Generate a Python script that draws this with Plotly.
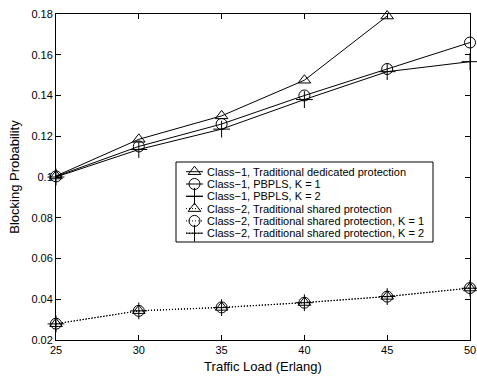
import plotly.graph_objects as go

load = [25, 30, 35, 40, 45, 50]
c1_dedicated = [0.1005, 0.1185, 0.1300, 0.1475, 0.1790]
c1_k1 = [0.1003, 0.1150, 0.1260, 0.1400, 0.1530, 0.1660]
c1_k2 = [0.1000, 0.1135, 0.1235, 0.1380, 0.1517, 0.1566]
c2_shared = [0.0280, 0.0344, 0.0360, 0.0384, 0.0414, 0.0455]
c2_k1 = [0.0280, 0.0343, 0.0360, 0.0383, 0.0413, 0.0455]
c2_k2 = [0.0279, 0.0343, 0.0359, 0.0383, 0.0413, 0.0454]

names = [
    "Class\u22121, Traditional dedicated protection",
    "Class\u22121, PBPLS, K = 1",
    "Class\u22121, PBPLS, K = 2",
    "Class\u22122, Traditional shared protection",
    "Class\u22122, Traditional shared protection, K = 1",
    "Class\u22122, Traditional shared protection, K = 2",
]
series = [c1_dedicated, c1_k1, c1_k2, c2_shared, c2_k1, c2_k2]
symbols = ["triangle-up-open", "circle-open", "cross-thin-open",
           "triangle-up-open", "circle-open", "cross-thin-open"]
dashes = ["solid", "solid", "solid", "1px,2px", "1px,2px", "1px,2px"]
sizes = [11, 11, 12, 11, 11, 12]

fig = go.Figure()
for name, ys, sym, d, s in zip(names, series, symbols, dashes, sizes):
    fig.add_trace(go.Scatter(
        x=load[:len(ys)], y=ys, name=name, mode="lines+markers",
        line=dict(color="black", width=1, dash=d),
        marker=dict(symbol=sym, size=s, color="black",
                    line=dict(color="black", width=1)),
        cliponaxis=False, showlegend=False,
    ))

# Hand-drawn legend on an overlay axis measured in page pixels
PX_L, PX_R, PX_T, PX_B = 56, 470, 14, 340
box = dict(x0=176, x1=433, y0=162, y1=242)
row_y = [171.7, 184.0, 196.3, 208.6, 220.9, 233.2]
sym_x0, sym_x1, sym_xc, text_x = 186, 203, 194.5, 206.5

shapes = [dict(type="rect", xref="x2", yref="y2", layer="below",
               line=dict(color="black", width=1), fillcolor="white", **box)]
fig.update_layout(shapes=shapes)
for name, sym, d, s, ry in zip(names, symbols, dashes, sizes, row_y):
    fig.add_trace(go.Scatter(
        x=[sym_x0, sym_x1], y=[ry, ry], mode="lines", xaxis="x2", yaxis="y2",
        line=dict(color="black", width=1, dash=d), showlegend=False,
        hoverinfo="skip"))
    fig.add_trace(go.Scatter(
        x=[sym_xc], y=[ry], mode="markers", xaxis="x2", yaxis="y2",
        marker=dict(symbol=sym, size=s, color="black",
                    line=dict(color="black", width=1)),
        showlegend=False, hoverinfo="skip"))
    fig.add_annotation(x=text_x, y=ry, xref="x2", yref="y2", text=name,
                       showarrow=False, xanchor="left", yanchor="middle",
                       xshift=-2, font=dict(size=11, color="black"))

axis_common = dict(
    showgrid=False, zeroline=False, showline=True, linecolor="black",
    linewidth=1, mirror="ticks", ticks="inside", ticklen=5,
    tickcolor="black", tickfont=dict(size=11, color="black"),
    automargin=False,
)
fig.update_layout(
    width=477, height=377,
    margin=dict(l=56, r=7, t=14, b=37, autoexpand=False),
    plot_bgcolor="white", paper_bgcolor="white",
    font=dict(family="Liberation Sans, Arial, sans-serif", color="black"),
    xaxis=dict(range=[25, 50], tickvals=[25, 30, 35, 40, 45, 50],
               title=dict(text="Traffic Load (Erlang)", font=dict(size=13), standoff=6),
               **axis_common),
    yaxis=dict(range=[0.02, 0.18], tickvals=[0.02, 0.04, 0.06, 0.08, 0.1, 0.12, 0.14, 0.16, 0.18],
               ticktext=["0.02", "0.04", "0.06", "0.08", "0.1", "0.12", "0.14", "0.16", "0.18"],
               title=dict(text="Blocking Probability", font=dict(size=13), standoff=8),
               **axis_common),
    xaxis2=dict(range=[PX_L, PX_R], overlaying="x", anchor="y2", visible=False,
                fixedrange=True, automargin=False),
    yaxis2=dict(range=[PX_B, PX_T], overlaying="y", anchor="x2", visible=False,
                fixedrange=True, automargin=False),
    showlegend=False,
)
fig.write_html("out.html", config={"displayModeBar": False, "staticPlot": True},
               post_script="document.body.style.margin='0';document.body.style.overflow='hidden';")
